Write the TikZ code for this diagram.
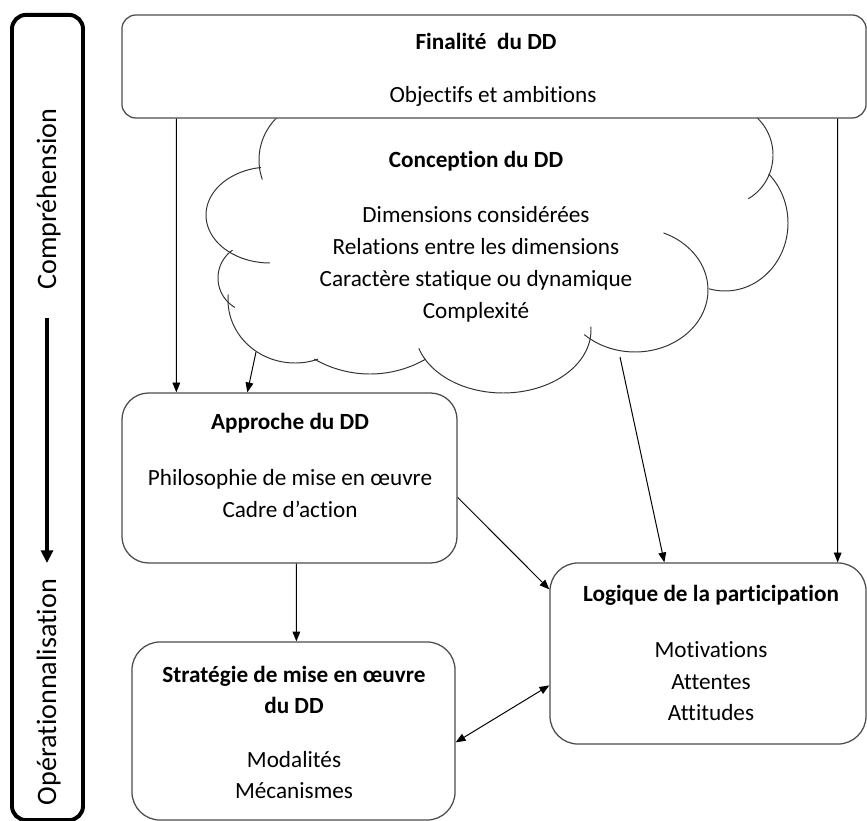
\documentclass[tikz,border=0pt]{standalone}
\usepackage{fontspec}
\setmainfont{Carlito}[Ligatures=NoCommon]
\usetikzlibrary{arrows.meta}
% one lobe of the cloud: centre (#1,#2), radii #3/#4, swept from angle #5 to #6
\newcommand\cloudlobe[6]{%
  \draw[lobe] plot[domain=#5:#6, samples=60, smooth] ({#1+#3*cos(\x)},{#2+#4*sin(\x)});}
\begin{document}
\begin{tikzpicture}[x=0.025cm, y=-0.025cm,
  panel/.style={draw=black!70, line width=0.9pt, fill=white, rounded corners=#1, inner sep=0pt},
  txt/.style={anchor=base, inner sep=0pt, font=\fontsize{16.5}{19}\selectfont},
  ttl/.style={anchor=base, inner sep=0pt, font=\fontsize{16.5}{19}\selectfont\bfseries},
  side/.style={anchor=base, inner sep=0pt, rotate=90, font=\fontsize{20}{24}\selectfont},
  link/.style={line width=0.7pt, -{Triangle[length=7pt,width=5.5pt]}},
  duo/.style={line width=0.7pt, {Triangle[length=7pt,width=5.5pt]}-{Triangle[length=7pt,width=5.5pt]}},
  lobe/.style={line width=0.7pt, draw=black!80}]
\useasboundingbox (0,0) rectangle (867,821);

% left bar: from understanding to implementation
\node[panel=10pt, draw=black, line width=2.8pt, fill=none, minimum width=1.775cm, minimum height=20.125cm] (bar) at (47.5,417.5) {};
\node[side] (comp) at (56,199) {Compréhension};
\node[side] (oper) at (56,692) {Opérationnalisation};
\coordinate (barA) at (47,318);
\coordinate (barB) at (47,563);
\draw[line width=2.4pt, -{Triangle[length=9pt,width=8.5pt]}] (barA) -- (barB);

% the cloud, drawn lobe by lobe
\cloudlobe{320}{160}{61}{60}{232}{161}
\cloudlobe{270}{215}{64}{48}{262}{90}
\cloudlobe{252}{278}{34}{34}{235}{120}
\cloudlobe{295}{300}{67}{63}{185}{70}
\cloudlobe{370}{262.5}{111.5}{111.5}{120}{60}
\cloudlobe{503}{330}{88}{63}{163}{-3}
\cloudlobe{635}{290}{73}{62}{-67}{134}
\cloudlobe{725}{223}{63}{68}{-46}{105}
\cloudlobe{725}{155}{48}{50}{-100}{61}
\coordinate (cl) at (256,352);
\coordinate (cr) at (620,357);
\node[ttl] (conT) at (476,167) {Conception du DD};
\node[txt] (con1) at (476,222) {Dimensions considérées};
\node[txt] (con2) at (476,254) {Relations entre les dimensions};
\node[txt] (con3) at (476,286) {Caractère statique ou dynamique};
\node[txt] (con4) at (476,318) {Complexité};

% boxes
\node[panel=10pt, minimum width=18.6cm, minimum height=2.575cm] (fin) at (494,66.5) {};
\node[ttl] (finT) at (486,50) {Finalité\ \ du DD};
\node[txt] (fin1) at (493,102) {Objectifs et ambitions};

\node[panel=19pt, minimum width=8.375cm, minimum height=4.25cm] (app) at (289.5,478) {};
\node[ttl] (appT) at (290,429) {Approche du DD};
\node[txt] (app1) at (290,485) {Philosophie de mise en œuvre};
\node[txt] (app2) at (290,517) {Cadre d’action};

\node[panel=20pt, minimum width=8.075cm, minimum height=4.45cm] (str) at (293.5,731) {};
\node[ttl] (strT) at (294,682) {Stratégie de mise en œuvre};
\node[ttl] (strT2) at (294,713) {du DD};
\node[txt] (str1) at (294,767) {Modalités};
\node[txt] (str2) at (294,798) {Mécanismes};

\node[panel=20pt, minimum width=7.9cm, minimum height=4.525cm] (log) at (708,653.5) {};
\node[ttl] (logT) at (711,601) {Logique de la participation};
\node[txt] (log1) at (711,657) {Motivations};
\node[txt] (log2) at (711,689) {Attentes};
\node[txt] (log3) at (711,720) {Attitudes};

% connectors
\draw[link] ([xshift=1.375cm]fin.south west) -- ([xshift=1.375cm]app.north west);
\draw[link] (cl) -- ([xshift=3.15cm]app.north west);
\draw[link] ([xshift=-0.725cm]fin.south east) -- ([xshift=-0.725cm]log.north east);
\draw[link] (cr) -- ([xshift=2.875cm]log.north west);
\draw[link] ([xshift=4.375cm]app.south west) -- ([xshift=4.125cm]str.north west);
\draw[link] ([yshift=-2.625cm]app.north east) -- ([yshift=-0.675cm]log.north west);
\draw[duo] ([yshift=-2.525cm]str.north east) -- ([yshift=-3.075cm]log.north west);
\end{tikzpicture}
\end{document}
